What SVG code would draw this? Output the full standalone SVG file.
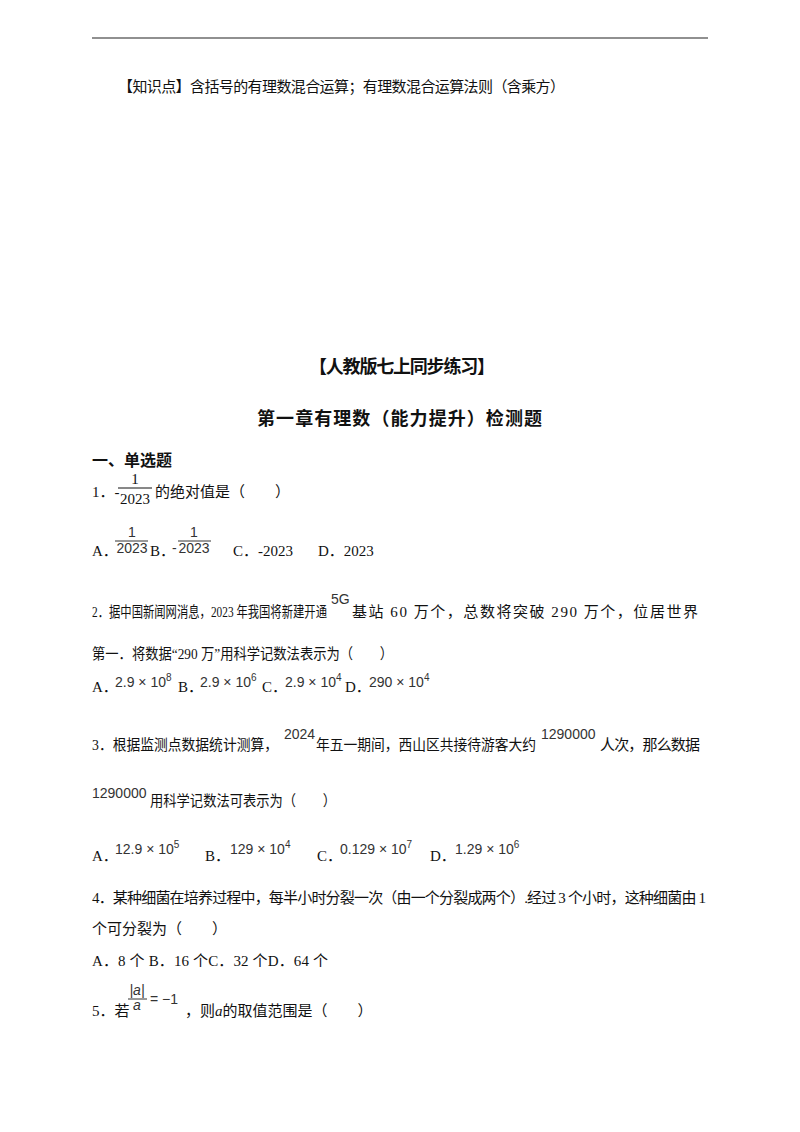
<svg xmlns="http://www.w3.org/2000/svg" width="800" height="1132" viewBox="0 0 800 1132">
<style>
text{font-family:"Liberation Serif","Noto Sans CJK SC",serif;font-size:15px;fill:#111}
.b{font-weight:bold;font-size:18px}
.m{font-family:"Liberation Sans","Noto Sans CJK SC",sans-serif;font-size:14px;fill:#333}
.s{font-size:10px}
.q{lengthAdjust:spacingAndGlyphs}
</style>
<rect width="800" height="1132" fill="#fff"/>
<line x1="92" y1="38" x2="708" y2="38" stroke="#222" stroke-width="1.2"/>
<text x="118" y="92" textLength="447">【知识点】含括号的有理数混合运算；有理数混合运算法则（含乘方）</text>
<text x="309" y="373" class="b" textLength="186">【人教版七上同步练习】</text>
<text x="257" y="425" class="b" textLength="285">第一章有理数（能力提升）检测题</text>
<text x="92" y="466" class="b" style="font-size:16px">一、单选题</text>
<g id="q1">
<text x="92" y="497">1．-</text>
<text x="135" y="484" text-anchor="middle">1</text>
<line x1="118" y1="488" x2="152" y2="488" stroke="#111"/>
<text x="135" y="504" text-anchor="middle">2023</text>
<text x="155" y="497">的绝对值是（　　）</text>
<text x="92" y="556">A．</text>
<text x="132" y="537" text-anchor="middle" class="m">1</text>
<line x1="115" y1="541" x2="148" y2="541" stroke="#333"/>
<text x="132" y="553" text-anchor="middle" class="m">2023</text>
<text x="150" y="556">B．</text>
<text x="172" y="553" class="m">-</text>
<text x="194" y="537" text-anchor="middle" class="m">1</text>
<line x1="178" y1="541" x2="211" y2="541" stroke="#333"/>
<text x="194" y="553" text-anchor="middle" class="m">2023</text>
<text x="233" y="556">C．-2023</text>
<text x="318" y="556">D．2023</text>
</g>
<g id="q2">
<text x="92" y="617" textLength="235" lengthAdjust="spacingAndGlyphs">2．据中国新闻网消息，2023 年我国将新建开通</text>
<text x="331" y="604" class="m">5G</text>
<text x="352" y="617" textLength="346">基站 60 万个，总数将突破 290 万个，位居世界</text>
<text x="92" y="659" textLength="301" lengthAdjust="spacingAndGlyphs">第一．将数据“290 万”用科学记数法表示为（　　）</text>
<text x="92" y="692">A．</text><text x="115" y="687" class="m">2.9 × 10<tspan class="s" dy="-6">8</tspan></text>
<text x="178" y="692">B．</text><text x="200" y="687" class="m">2.9 × 10<tspan class="s" dy="-6">6</tspan></text>
<text x="262" y="692">C．</text><text x="285" y="687" class="m">2.9 × 10<tspan class="s" dy="-6">4</tspan></text>
<text x="345" y="692">D．</text><text x="369" y="687" class="m">290 × 10<tspan class="s" dy="-6">4</tspan></text>
</g>
<g id="q3">
<text x="92" y="750" textLength="186" lengthAdjust="spacingAndGlyphs">3．根据监测点数据统计测算，</text>
<text x="284" y="739" class="m">2024</text>
<text x="316" y="750" textLength="220" lengthAdjust="spacingAndGlyphs">年五一期间，西山区共接待游客大约</text>
<text x="541" y="739" class="m">1290000</text>
<text x="600" y="750" textLength="100">人次，那么数据</text>
<text x="92" y="798" class="m">1290000</text>
<text x="150" y="806" textLength="186" lengthAdjust="spacingAndGlyphs">用科学记数法可表示为（　　）</text>
<text x="92" y="861">A．</text><text x="115" y="854" class="m">12.9 × 10<tspan class="s" dy="-6">5</tspan></text>
<text x="205" y="861">B．</text><text x="230" y="854" class="m">129 × 10<tspan class="s" dy="-6">4</tspan></text>
<text x="317" y="861">C．</text><text x="340" y="854" class="m">0.129 × 10<tspan class="s" dy="-6">7</tspan></text>
<text x="430" y="861">D．</text><text x="455" y="854" class="m">1.29 × 10<tspan class="s" dy="-6">6</tspan></text>
</g>
<g id="q4">
<text x="92" y="903" textLength="614">4．某种细菌在培养过程中，每半小时分裂一次（由一个分裂成两个）.经过 3 个小时，这种细菌由 1</text>
<text x="92" y="934">个可分裂为（　　）</text>
<text x="92" y="966" textLength="236">A．8 个  B．16 个C．32 个D．64 个</text>
</g>
<g id="q5">
<text x="92" y="1016">5．若</text>
<text x="137" y="995" text-anchor="middle" class="m" font-style="italic">|a|</text>
<line x1="128" y1="999" x2="147" y2="999" stroke="#333"/>
<text x="137" y="1010" text-anchor="middle" class="m" font-style="italic">a</text>
<text x="150" y="1004" class="m">= −1</text>
<text x="185" y="1016">，则<tspan font-style="italic">a</tspan>的取值范围是（　　）</text>
</g>
</svg>
